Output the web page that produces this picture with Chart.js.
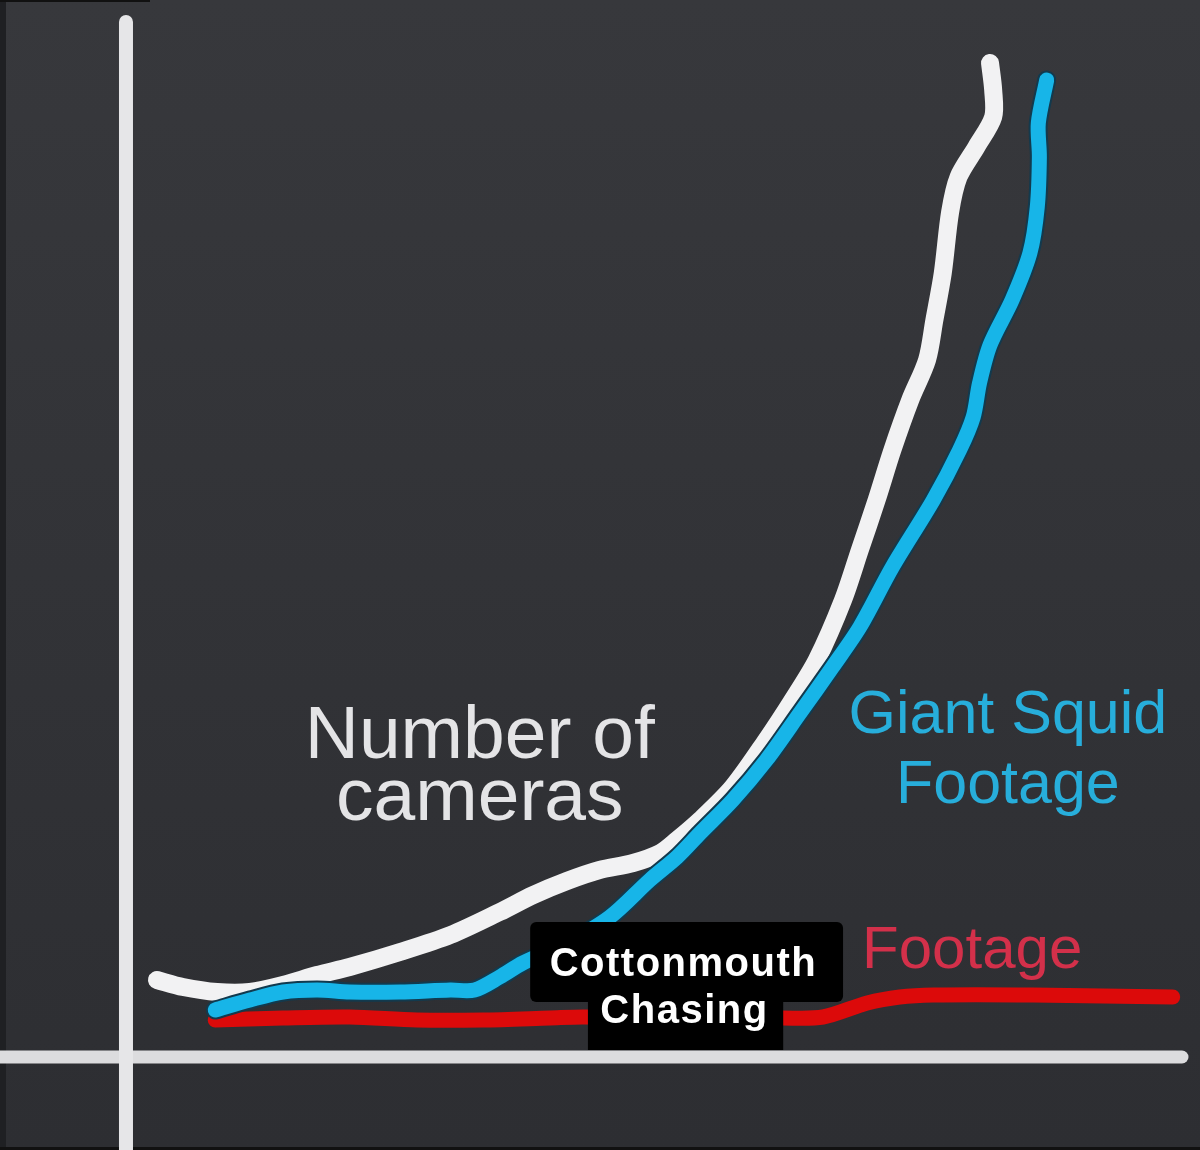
<!DOCTYPE html>
<html>
<head>
<meta charset="utf-8">
<script src="https://cdn.jsdelivr.net/npm/chart.js@4.4.1/dist/chart.umd.min.js"></script>
<style>
  html, body { margin: 0; padding: 0; background: #333438; }
  #wrap { width: 1200px; height: 1150px; position: relative; }
</style>
</head>
<body>
<div id="wrap"><canvas id="squid-chart"></canvas></div>
<script>
// DATA (x = time, y = amount, arbitrary units)
const camerasX = [2.95, 5.43, 8.67, 11.8, 14.95, 18.2, 21.3, 26.1, 30.9, 35.6, 38.8, 42.0, 45.1, 48.3, 50.9, 52.5, 54.7, 57.8, 61.0, 63.5, 65.8, 68.3, 69.9, 71.5, 73.0, 74.7, 76.3, 77.0, 77.8, 78.5, 79.3, 81.0, 82.6, 82.6, 82.3];
const camerasY = [7.7, 7.0, 6.5, 6.5, 7.2, 8.2, 9.0, 10.5, 12.2, 14.5, 16.2, 17.6, 18.7, 19.4, 20.4, 21.7, 23.7, 27.0, 31.7, 35.7, 39.7, 45.7, 50.7, 55.7, 60.7, 65.7, 69.7, 73.7, 78.4, 84.5, 88.0, 91.0, 94.0, 96.7, 99.4];

const squidX = [8.5, 11.8, 14.95, 18.2, 21.3, 26.1, 30.9, 33.2, 35.6, 37.8, 42.0, 46.1, 49.9, 52.5, 54.7, 57.8, 61.0, 64.2, 67.3, 69.9, 73.0, 76.9, 79.4, 80.7, 81.3, 82.3, 84.4, 86.1, 86.8, 87.0, 86.9, 87.7];
const squidY = [4.7, 5.7, 6.5, 6.7, 6.5, 6.5, 6.7, 6.7, 8.0, 9.4, 11.4, 14.0, 17.7, 20.0, 22.4, 25.7, 29.7, 34.4, 39.0, 43.0, 49.0, 55.7, 60.7, 64.0, 67.4, 71.2, 75.7, 80.4, 85.0, 90.0, 93.4, 97.7];

const snakeX = [8.5, 14.95, 21.3, 27.7, 34.0, 40.4, 43.5, 62.6, 66.4, 70.6, 73.7, 76.9, 86.4, 99.7];
const snakeY = [3.7, 3.9, 4.0, 3.7, 3.7, 3.9, 4.0, 3.9, 4.0, 5.4, 6.0, 6.2, 6.2, 6.0];

const toPoints = (xs, ys) => xs.map((x, i) => ({ x: x, y: ys[i] }));

const chartCanvas = document.getElementById("squid-chart");

/////////////////////////////////////////////////////
//  BACKGROUND + HAND DRAWN AXES
const backdrop = {
  id: 'backdrop',
  beforeDraw(chart) {
    const ctx = chart.ctx;
    const w = chart.width, h = chart.height;
    const g = ctx.createLinearGradient(0, 0, 0, h);
    g.addColorStop(0, '#37383c');
    g.addColorStop(1, '#2d2e32');
    ctx.save();
    ctx.fillStyle = g;
    ctx.fillRect(0, 0, w, h);
    ctx.fillStyle = '#1f2023';
    ctx.fillRect(0, 0, 6, h);
    ctx.fillStyle = '#111';
    ctx.fillRect(0, 0, 150, 2);
    ctx.fillRect(0, h - 3, w, 3);

    const x0 = chart.scales.x.getPixelForValue(0);
    const y0 = chart.scales.y.getPixelForValue(0);
    ctx.lineCap = 'round';
    ctx.strokeStyle = '#dcdcde';
    ctx.lineWidth = 13;
    ctx.beginPath();
    ctx.moveTo(0, y0);
    ctx.lineTo(1182, y0);
    ctx.stroke();
    ctx.strokeStyle = '#e6e6e8';
    ctx.lineWidth = 14;
    ctx.beginPath();
    ctx.moveTo(x0, 22);
    ctx.lineTo(x0, h + 10);
    ctx.stroke();
    ctx.restore();
  }
};

// LABELS written on the chart
const noteList = [
  { lines: ['Number of', 'cameras'], x: 33.7, y: [29.9, 23.7], font: '75px "Liberation Sans", Arial, sans-serif', color: '#e4e4e6' },
  { lines: ['Giant Squid', 'Footage'], x: 84.0, y: [32.4, 25.4], font: '61px "Liberation Sans", Arial, sans-serif', color: '#27aedb' },
  { lines: ['Footage'], x: 80.6, y: [8.9], font: '60px "Liberation Sans", Arial, sans-serif', color: '#d3304a' }
];

const notes = {
  id: 'notes',
  afterDatasetsDraw(chart) {
    const ctx = chart.ctx;
    const sx = chart.scales.x, sy = chart.scales.y;
    ctx.save();
    ctx.textAlign = 'center';
    ctx.textBaseline = 'alphabetic';
    noteList.forEach(n => {
      ctx.font = n.font;
      ctx.fillStyle = n.color;
      n.lines.forEach((t, i) => {
        ctx.fillText(t, sx.getPixelForValue(n.x), sy.getPixelForValue(n.y[i]));
      });
    });

    // black caption box
    ctx.fillStyle = '#000';
    const l1 = sx.getPixelForValue(38.5), r1 = sx.getPixelForValue(68.3);
    const t1 = sy.getPixelForValue(13.5), b1 = sy.getPixelForValue(5.5);
    const l2 = sx.getPixelForValue(44.0), r2 = sx.getPixelForValue(62.6);
    const b2 = sy.getPixelForValue(0.7);
    ctx.beginPath();
    ctx.roundRect(l1, t1, r1 - l1, b1 - t1, 6);
    ctx.fill();
    ctx.fillRect(l2, b1 - 4, r2 - l2, b2 - b1 + 4);

    ctx.fillStyle = '#fff';
    ctx.font = 'bold 40px "Liberation Sans", Arial, sans-serif';
    ctx.letterSpacing = '1.5px';
    ctx.fillText('Cottonmouth', sx.getPixelForValue(53.1), sy.getPixelForValue(8.1));
    ctx.fillText('Chasing', sx.getPixelForValue(53.2), sy.getPixelForValue(3.4));
    ctx.restore();
  }
};

const lineStyle = {
  fill: false,
  tension: 0.3,
  pointRadius: 0,
  borderCapStyle: 'round',
  borderJoinStyle: 'round'
};

let squidChart = new Chart(chartCanvas, {
  type: 'line',
  data: {
    datasets: [
      Object.assign({ label: 'Footage', data: toPoints(snakeX, snakeY), borderColor: '#dc0a0a', borderWidth: 15, order: 4 }, lineStyle),
      Object.assign({ label: 'Number of cameras', data: toPoints(camerasX, camerasY), borderColor: '#f2f2f3', borderWidth: 18, order: 3 }, lineStyle),
      Object.assign({ label: 'outline', data: toPoints(squidX, squidY), borderColor: '#123a4e', borderWidth: 19, order: 2 }, lineStyle),
      Object.assign({ label: 'Giant Squid Footage', data: toPoints(squidX, squidY), borderColor: '#17b5e8', borderWidth: 15, order: 1 }, lineStyle)
    ]
  },
  options: {
    responsive: true,
    maintainAspectRatio: false,
    animation: { duration: 0 },
    layout: { padding: 0 },
    scales: {
      x: { type: 'linear', min: -12, max: 102.3, display: false },
      y: { type: 'linear', min: -9.3, max: 105.7, display: false }
    },
    plugins: {
      legend: { display: false },
      tooltip: { enabled: false }
    }
  },
  plugins: [backdrop, notes]
});
</script>
</body>
</html>
